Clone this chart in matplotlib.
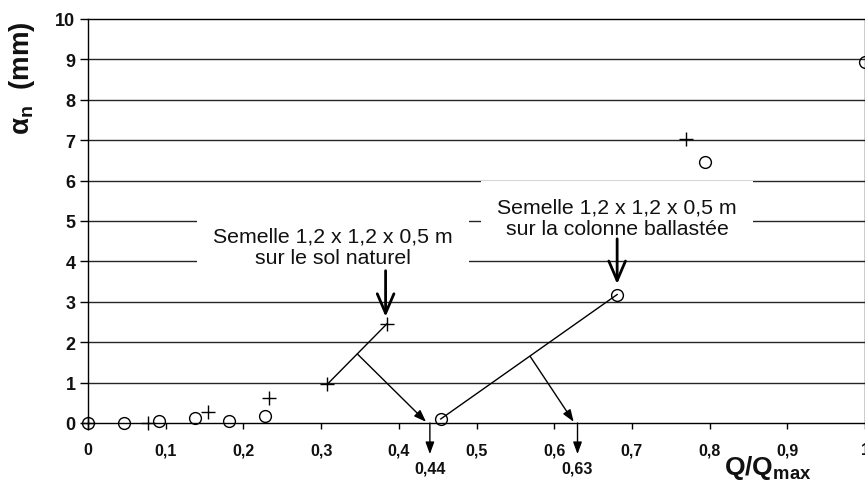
import numpy as np
import matplotlib.pyplot as plt
from matplotlib.ticker import FixedLocator, FixedFormatter

plt.rcParams['font.family'] = ['Liberation Sans', 'DejaVu Sans']
plt.rcParams['mathtext.fontset'] = 'custom'
plt.rcParams['mathtext.rm'] = 'Liberation Sans'
plt.rcParams['mathtext.bf'] = 'Liberation Sans:bold'
plt.rcParams['mathtext.it'] = 'Liberation Sans:italic'

#%% data
# semelle sur la colonne ballastee (circles)
x_col = [0.0, 0.046, 0.092, 0.1375, 0.182, 0.2275, 0.454, 0.681, 0.794, 1.0]
y_col = [0.0, 0.0, 0.05, 0.12, 0.05, 0.17, 0.10, 3.18, 6.45, 8.93]
# semelle sur le sol naturel (crosses)
x_sol = [0.0, 0.0775, 0.155, 0.233, 0.308, 0.385, 0.769]
y_sol = [0.0, 0.0, 0.26, 0.61, 0.96, 2.46, 7.04]

xticks = [0, 0.1, 0.2, 0.3, 0.4, 0.5, 0.6, 0.7, 0.8, 0.9, 1.0]
xticklabels = ['0', '0,1', '0,2', '0,3', '0,4', '0,5', '0,6', '0,7', '0,8', '0,9', '1']
yticks = list(range(0, 11))

# tangent construction: segment ends, kink point, intersection with axis
seg_sol = (4, 5)
kink_sol = (0.3466, 1.71)
q_sol = 0.44
seg_col = (6, 7)
kink_col = (0.569, 1.65)
q_col = 0.63

label_sol = 'Semelle 1,2 x 1,2 x 0,5 m\nsur le sol naturel'
label_col = 'Semelle 1,2 x 1,2 x 0,5 m\nsur la colonne ballastée'

#%%
fig = plt.figure(figsize=(8.65, 4.81), dpi=100)
ax = fig.add_axes([88/865, 57/481, 777/865, 404/481])
ax.set_xlim(0, 1)
ax.set_ylim(0, 10)

for yv in yticks[1:-1]:
    ax.axhline(yv, color='#252525', lw=1, zorder=1)

for s in ['left', 'top', 'bottom', 'right']:
    ax.spines[s].set_color('black')
    ax.spines[s].set_linewidth(1)

ax.xaxis.set_major_locator(FixedLocator(xticks))
ax.xaxis.set_major_formatter(FixedFormatter(xticklabels))
ax.set_yticks(yticks)
ax.tick_params(axis='x', direction='out', length=4, width=1, pad=10, labelsize=11.5)
ax.tick_params(axis='y', direction='out', length=6, width=1, pad=3, labelsize=13)
for lab in ax.get_xticklabels() + ax.get_yticklabels():
    lab.set_fontweight('bold')
    lab.set_color('#111111')

ax.plot(x_col, y_col, 'o', ms=8.5, mfc='none', mec='black', mew=1, zorder=5, clip_on=False)
ax.plot(x_sol, y_sol, '+', ms=10, mec='black', mew=1, zorder=5, clip_on=False)

# secant lines between two points of each curve
i, j = seg_sol
ax.plot([x_sol[i], x_sol[j]], [y_sol[i], y_sol[j]], color='black', lw=1, zorder=4)
i, j = seg_col
ax.plot([x_col[i], x_col[j]], [y_col[i], y_col[j]], color='black', lw=1, zorder=4)

thin = dict(arrowstyle='-|>,head_length=0.6,head_width=0.22', color='black', lw=1,
            mutation_scale=12, shrinkA=0, shrinkB=0)
for kink, q in [(kink_sol, q_sol), (kink_col, q_col)]:
    ax.annotate('', xy=(q - 0.005, 0.03), xytext=kink, arrowprops=thin,
                annotation_clip=False, zorder=4)
    ax.annotate('', xy=(q, -0.77), xytext=(q, 0.0), arrowprops=thin,
                annotation_clip=False, zorder=4)
    ax.text(q, -1.12, '{:.2f}'.format(q).replace('.', ','), ha='center', va='center',
            fontsize=11.5, fontweight='bold', color='#111111', clip_on=False)

# labels with white box hiding the grid
box = dict(boxstyle='square,pad=0.75', facecolor='white', edgecolor='none')
ax.text(0.3155, 4.36, label_sol, ha='center', va='center', fontsize=15.3,
        linespacing=1.18, color='#111111', bbox=box, zorder=3)
ax.text(0.681, 5.08, label_col, ha='center', va='center', fontsize=15.3,
        linespacing=1.18, color='#111111', bbox=box, zorder=3)

thick = dict(arrowstyle='->,head_length=0.7,head_width=0.3', color='black', lw=2,
             mutation_scale=20, shrinkA=0, shrinkB=0)
ax.annotate('', xy=(0.383, 2.63), xytext=(0.383, 3.77), arrowprops=thick, zorder=4)
ax.annotate('', xy=(0.681, 3.44), xytext=(0.681, 4.56), arrowprops=thick, zorder=4)

ax.set_ylabel('α$_\\mathbf{n}$  (mm)', fontsize=20, fontweight='bold', color='#111111')
ax.yaxis.set_label_coords(-0.066, 0.856)
ax.text(0.875, -1.08, 'Q/Q$_\\mathbf{max}$', ha='center', va='center', fontsize=19,
        fontweight='bold', color='#111111', clip_on=False)

fig.savefig('out.png', dpi=100)
